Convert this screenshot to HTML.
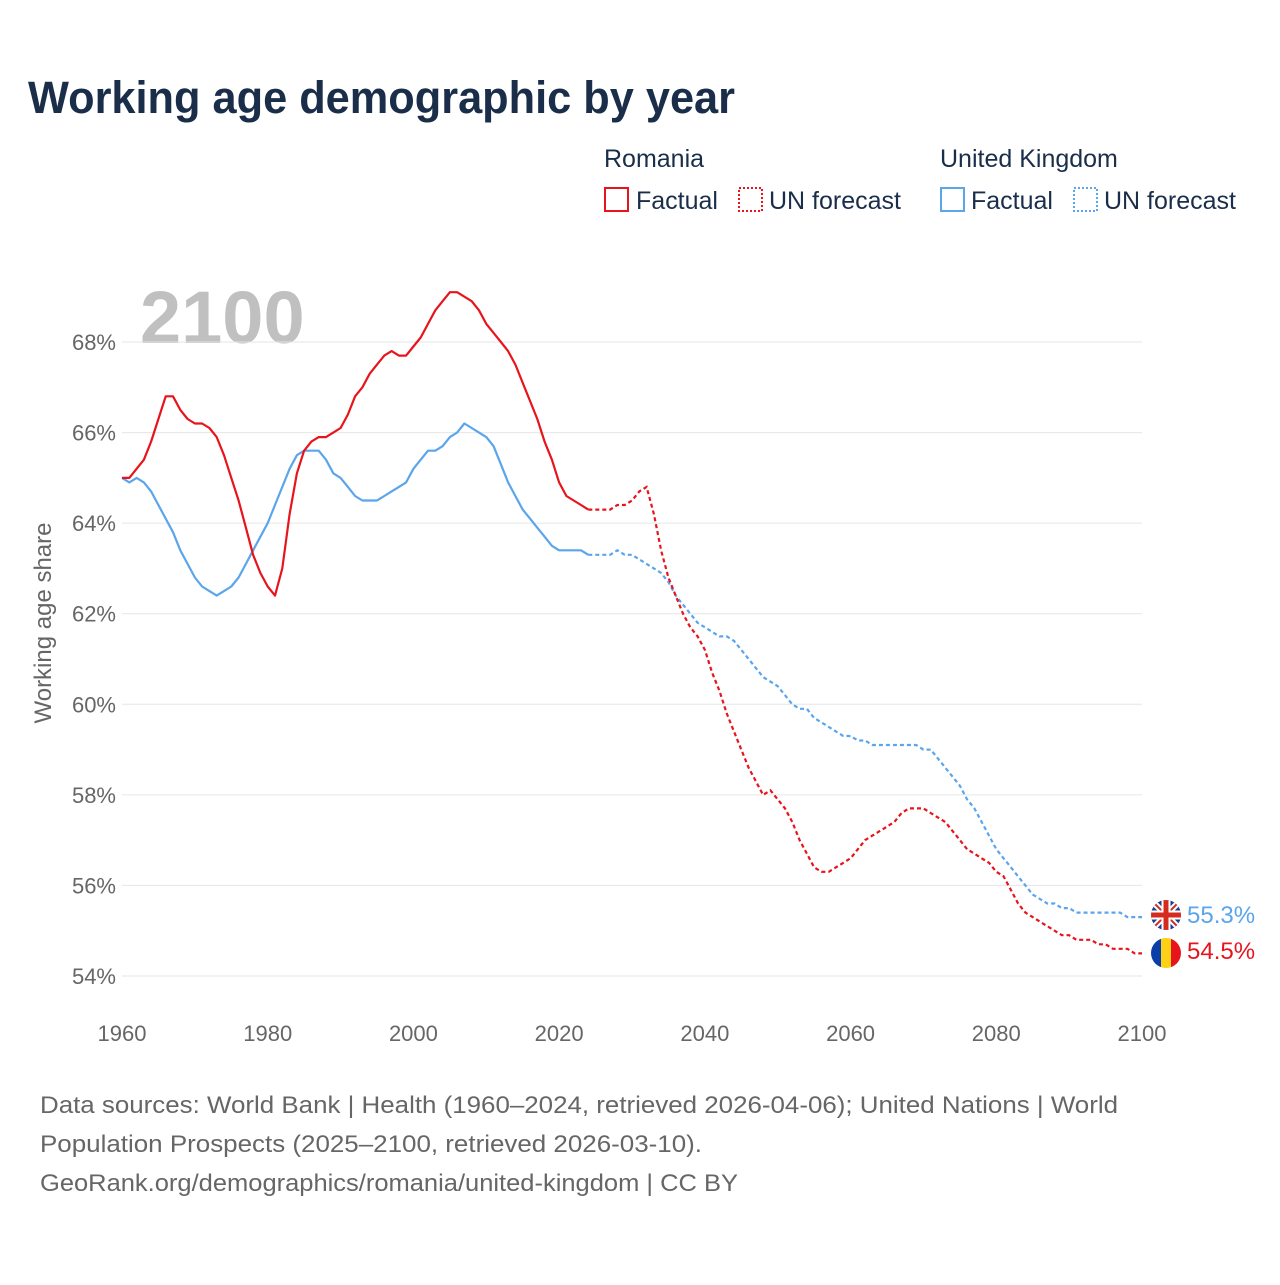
<!DOCTYPE html>
<html><head><meta charset="utf-8"><style>
body{margin:0;background:#fff;font-family:"Liberation Sans",sans-serif;}
svg text{font-family:"Liberation Sans",sans-serif;}
</style></head><body>
<svg width="1280" height="1280" viewBox="0 0 1280 1280">
<text x="28" y="113" font-size="45" font-weight="bold" fill="#1a2e4a" textLength="707" lengthAdjust="spacingAndGlyphs">Working age demographic by year</text>
<g font-size="25" fill="#1a2e4a">
<text x="604" y="167">Romania</text>
<rect x="605" y="188" width="23" height="23" fill="none" stroke="#e8141c" stroke-width="2"/>
<text x="636" y="209">Factual</text>
<rect x="739" y="188" width="23" height="23" fill="none" stroke="#e8141c" stroke-width="2" stroke-dasharray="2,2"/>
<text x="769" y="209">UN forecast</text>
<text x="940" y="167">United Kingdom</text>
<rect x="941" y="188" width="23" height="23" fill="none" stroke="#5aa5eb" stroke-width="2"/>
<text x="971" y="209">Factual</text>
<rect x="1074" y="188" width="23" height="23" fill="none" stroke="#5aa5eb" stroke-width="2" stroke-dasharray="2,2"/>
<text x="1104" y="209">UN forecast</text>
</g>
<text x="140" y="343" font-size="74" font-weight="bold" fill="#c0c0c0">2100</text>
<g id="grid"></g>
<g id="xt"></g>
<text transform="translate(51,623) rotate(-90)" text-anchor="middle" font-size="24" fill="#666">Working age share</text>
<g id="series"></g>
<g>
<clipPath id="c1"><circle cx="1166" cy="915" r="15"/></clipPath>
<g clip-path="url(#c1)">
<rect x="1150" y="899" width="32" height="32" fill="#1f3d8c"/>
<path d="M1150 899L1182 931M1182 899L1150 931" stroke="#fff" stroke-width="6"/>
<path d="M1150 899L1182 931M1182 899L1150 931" stroke="#d52b1e" stroke-width="2"/>
<path d="M1166 899V931M1150 915H1182" stroke="#fff" stroke-width="9"/>
<path d="M1166 899V931M1150 915H1182" stroke="#d52b1e" stroke-width="5"/>
</g></g>
<g>
<clipPath id="c2"><circle cx="1166" cy="953" r="15"/></clipPath>
<g clip-path="url(#c2)">
<rect x="1150" y="937" width="11" height="32" fill="#0b3fa8"/>
<rect x="1161" y="937" width="10" height="32" fill="#fcd116"/>
<rect x="1171" y="937" width="11" height="32" fill="#e8141c"/>
</g></g>
<text x="1187" y="923" font-size="24" fill="#5aa5eb">55.3%</text>
<text x="1187" y="959" font-size="24" fill="#e8141c">54.5%</text>
<g font-size="24" fill="#666">
<text x="40" y="1113" textLength="1078" lengthAdjust="spacingAndGlyphs">Data sources: World Bank | Health (1960–2024, retrieved 2026-04-06); United Nations | World</text>
<text x="40" y="1152" textLength="662" lengthAdjust="spacingAndGlyphs">Population Prospects (2025–2100, retrieved 2026-03-10).</text>
<text x="40" y="1191" textLength="698" lengthAdjust="spacingAndGlyphs">GeoRank.org/demographics/romania/united-kingdom | CC BY</text>
</g>
</svg>
<script>
const yTicks=[54,56,58,60,62,64,66,68];
const xTicks=[1960,1980,2000,2020,2040,2060,2080,2100];
const startYear=1960;
const factualEnd=2024;
const roValues=[65.0,65.0,65.2,65.4,65.8,66.3,66.8,66.8,66.5,66.3,66.2,66.2,66.1,65.9,65.5,65.0,64.5,63.9,63.3,62.9,62.6,62.4,63.0,64.2,65.1,65.6,65.8,65.9,65.9,66.0,66.1,66.4,66.8,67.0,67.3,67.5,67.7,67.8,67.7,67.7,67.9,68.1,68.4,68.7,68.9,69.1,69.1,69.0,68.9,68.7,68.4,68.2,68.0,67.8,67.5,67.1,66.7,66.3,65.8,65.4,64.9,64.6,64.5,64.4,64.3,64.3,64.3,64.3,64.4,64.4,64.5,64.7,64.8,64.2,63.4,62.8,62.4,62.0,61.7,61.5,61.2,60.7,60.3,59.8,59.4,59.0,58.6,58.3,58.0,58.1,57.9,57.7,57.4,57.0,56.7,56.4,56.3,56.3,56.4,56.5,56.6,56.8,57.0,57.1,57.2,57.3,57.4,57.6,57.7,57.7,57.7,57.6,57.5,57.4,57.2,57.0,56.8,56.7,56.6,56.5,56.3,56.2,55.9,55.6,55.4,55.3,55.2,55.1,55.0,54.9,54.9,54.8,54.8,54.8,54.7,54.7,54.6,54.6,54.6,54.5,54.5];
const ukValues=[65.0,64.9,65.0,64.9,64.7,64.4,64.1,63.8,63.4,63.1,62.8,62.6,62.5,62.4,62.5,62.6,62.8,63.1,63.4,63.7,64.0,64.4,64.8,65.2,65.5,65.6,65.6,65.6,65.4,65.1,65.0,64.8,64.6,64.5,64.5,64.5,64.6,64.7,64.8,64.9,65.2,65.4,65.6,65.6,65.7,65.9,66.0,66.2,66.1,66.0,65.9,65.7,65.3,64.9,64.6,64.3,64.1,63.9,63.7,63.5,63.4,63.4,63.4,63.4,63.3,63.3,63.3,63.3,63.4,63.3,63.3,63.2,63.1,63.0,62.9,62.7,62.4,62.2,62.0,61.8,61.7,61.6,61.5,61.5,61.4,61.2,61.0,60.8,60.6,60.5,60.4,60.2,60.0,59.9,59.9,59.7,59.6,59.5,59.4,59.3,59.3,59.2,59.2,59.1,59.1,59.1,59.1,59.1,59.1,59.1,59.0,59.0,58.8,58.6,58.4,58.2,57.9,57.7,57.4,57.1,56.8,56.6,56.4,56.2,56.0,55.8,55.7,55.6,55.6,55.5,55.5,55.4,55.4,55.4,55.4,55.4,55.4,55.4,55.3,55.3,55.3];
const NS='http://www.w3.org/2000/svg';
const X=y=>122+(y-1960)*(1020/140);
const Y=v=>342+(68-v)*(634/14);
function mk(tag,attrs,parent){const e=document.createElementNS(NS,tag);for(const k in attrs)e.setAttribute(k,attrs[k]);parent.appendChild(e);return e;}
const grid=document.getElementById('grid');
yTicks.forEach(t=>{
 const l=mk('line',{x1:122,x2:1142,y1:Y(t),y2:Y(t),stroke:'#e6e6e6','stroke-width':1},grid);
 
 
 const tx=mk('text',{x:116,y:Y(t)+8,'text-anchor':'end','font-size':22,fill:'#666'},grid);
 tx.textContent=t+'%';
 
 
});
const xt=document.getElementById('xt');
xTicks.forEach(t=>{
 const tx=mk('text',{x:X(t),y:1041,'text-anchor':'middle','font-size':22,fill:'#666'},xt);
 tx.textContent=t;
 
 
});
const sg=document.getElementById('series');
function draw(vals,color,name){
 let a='',b='';
 vals.forEach((v,i)=>{const yr=startYear+i;const p=X(yr).toFixed(1)+','+Y(v).toFixed(1);
  if(yr<=factualEnd)a+=(a?'L':'M')+p;
  if(yr>=factualEnd)b+=(b?'L':'M')+p;});
 const p1=mk('path',{d:a,fill:'none',stroke:color,'stroke-width':2.2,'stroke-linejoin':'round'},sg);
 
 
 const p2=mk('path',{d:b,fill:'none',stroke:color,'stroke-width':2.2,'stroke-dasharray':'4,3'},sg);
 
 
}
draw(ukValues,'#5aa5eb','uk');
draw(roValues,'#e8141c','romania');
</script>
</body></html>
